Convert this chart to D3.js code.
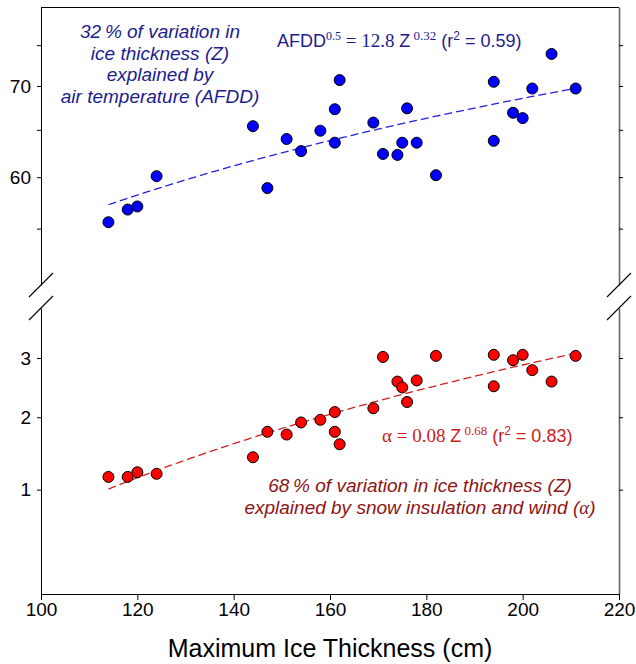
<!DOCTYPE html>
<html>
<head>
<meta charset="utf-8">
<title>Ice thickness vs AFDD and alpha</title>
<style>
  body { margin: 0; background: #fff; }
  text { font-family: "Liberation Sans", Arial, sans-serif; }
</style>
</head>
<body>
<script src="https://cdn.jsdelivr.net/npm/d3@7"></script>
<script>
var width  = 636;
var height = 664;

// maximum ice thickness Z (cm), one entry per lake/year
var thickness = [114, 118, 120, 124, 144, 147, 151, 154, 158, 161, 161, 162, 169,
                 171, 174, 175, 176, 178, 182, 194, 194, 198, 200, 202, 206, 211];
// AFDD^0.5 (upper panel, blue)
var afdd = [55.6, 56.8, 57.1, 60.1, 65.4, 58.9, 64.0, 62.7, 64.9, 63.6, 67.3, 70.7, 65.8,
            62.4, 62.3, 63.6, 67.4, 63.6, 60.2, 63.8, 70.5, 66.9, 66.3, 69.7, 73.9, 69.7];
// alpha (lower panel, red)
var alpha = [2.08, 2.08, 2.11, 2.10, 2.21, 2.39, 2.37, 2.46, 2.48, 2.54, 2.39, 2.30, 2.57,
             3.01, 2.79, 2.74, 2.62, 2.80, 3.02, 3.03, 2.75, 2.98, 3.03, 2.89, 2.79, 3.02];

var xTicks = [100, 120, 140, 160, 180, 200, 220];
var afddTicks = [55, 60, 65, 70, 75];
var afddTickLabels = ["", "60", "", "70", ""];
var alphaTicks = [2, 2.5, 3];
var alphaTickLabels = ["1", "2", "3"];

// power-law fits y = a * Z^b
var afddFit  = [12.58, 0.32];
var alphaFit = [0.08, 0.68];

var blueText = "#1c1c8e";
var redText  = "#8c1414";

var svg = d3.select("body").append("svg")
            .attr("width", width)
            .attr("height", height);

var x    = d3.scaleLinear().domain([100, 220]).range([41, 619]);
var yTop = d3.scaleLog().domain([50, 80]).range([285, 7]);
var yBot = d3.scaleLog().domain([1.45, 3.5]).range([594, 308]);

// top border
svg.append("line")
   .attr("x1", x.range()[0]).attr("x2", x.range()[1])
   .attr("y1", 7.5).attr("y2", 7.5)
   .attr("stroke", "#000");

// left axes
function styleAxis(g, size) {
  g.attr("font-size", size).attr("font-family", "Liberation Sans, Arial, sans-serif");
}
svg.append("g")
   .attr("transform", "translate(" + x.range()[0] + ",0)")
   .call(d3.axisLeft(yTop).tickValues(afddTicks).tickSize(4).tickSizeOuter(0).tickPadding(6)
           .tickFormat(function(d, i) { return afddTickLabels[i]; }))
   .call(styleAxis, 19);
svg.append("g")
   .attr("transform", "translate(" + x.range()[0] + ",0)")
   .call(d3.axisLeft(yBot).tickValues(alphaTicks).tickSize(4).tickSizeOuter(0).tickPadding(6)
           .tickFormat(function(d, i) { return alphaTickLabels[i]; }))
   .call(styleAxis, 19);

// right axes (grey, no labels)
[yTop, yBot].forEach(function(s, k) {
  var g = svg.append("g")
     .attr("transform", "translate(" + x.range()[1] + ",0)")
     .call(d3.axisRight(s).tickValues(k === 0 ? afddTicks : alphaTicks).tickSize(4).tickSizeOuter(0)
             .tickFormat(""));
  g.select(".domain").attr("stroke", "#666").attr("stroke-width", 1.6);
});

// bottom axis
svg.append("g")
   .attr("transform", "translate(0," + yBot.range()[0] + ")")
   .call(d3.axisBottom(x).tickValues(xTicks).tickSize(6).tickSizeOuter(0).tickPadding(3))
   .call(styleAxis, 19);

// axis break marks
[x.range()[0], x.range()[1]].forEach(function(px) {
  [yTop.range()[0], yBot.range()[1]].forEach(function(py) {
    svg.append("line")
       .attr("x1", px - 12).attr("y1", py + 12)
       .attr("x2", px + 12).attr("y2", py - 12)
       .attr("stroke", "#000").attr("stroke-width", 1.1);
  });
});

// fit lines
var zRange = d3.range(thickness[0], thickness[thickness.length - 1] + 0.5, 1);
var lineTop = d3.line()
  .x(function(z) { return x(z); })
  .y(function(z) { return yTop(afddFit[0] * Math.pow(z, afddFit[1])); });
var lineBot = d3.line()
  .x(function(z) { return x(z); })
  .y(function(z) { return yBot(alphaFit[0] * Math.pow(z, alphaFit[1])); });

svg.append("path").datum(zRange).attr("d", lineTop)
   .attr("fill", "none").attr("stroke", "#2222dd").attr("stroke-width", 1.3)
   .attr("stroke-dasharray", "8,4");
svg.append("path").datum(zRange).attr("d", lineBot)
   .attr("fill", "none").attr("stroke", "#d02020").attr("stroke-width", 1.3)
   .attr("stroke-dasharray", "8,4");

// points
svg.append("g").selectAll("circle")
   .data(thickness)
   .enter().append("circle")
   .attr("cx", function(d) { return x(d); })
   .attr("cy", function(d, i) { return yTop(afdd[i]); })
   .attr("r", 5.5)
   .attr("fill", "#0000ff").attr("stroke", "#000").attr("stroke-width", 1);

svg.append("g").selectAll("circle")
   .data(thickness)
   .enter().append("circle")
   .attr("cx", function(d) { return x(d); })
   .attr("cy", function(d, i) { return yBot(alpha[i]); })
   .attr("r", 5.5)
   .attr("fill", "#ff0000").attr("stroke", "#000").attr("stroke-width", 1);

// x axis title
svg.append("text")
   .attr("x", (x.range()[0] + x.range()[1]) / 2)
   .attr("y", 657)
   .attr("text-anchor", "middle")
   .attr("font-size", 25)
   .text("Maximum Ice Thickness (cm)");

// upper note
var noteTop = ["32\u2009% of variation in", "ice thickness (Z)", "explained by", "air temperature (AFDD)"];
svg.append("g").selectAll("text")
   .data(noteTop)
   .enter().append("text")
   .attr("x", 160)
   .attr("y", function(d, i) { return 38 + i * 21.7; })
   .attr("text-anchor", "middle")
   .attr("font-size", 19)
   .attr("font-style", "italic")
   .attr("fill", blueText)
   .text(function(d) { return d; });

// upper equation
var eq1 = svg.append("text")
   .attr("x", 277).attr("y", 46.5)
   .attr("font-size", 18).attr("fill", blueText)
   .style("white-space", "pre");
eq1.append("tspan").text("AFDD");
eq1.append("tspan").attr("dy", -7).attr("font-size", 12).attr("font-family", "Liberation Serif, serif").text("0.5");
eq1.append("tspan").attr("dy", 7).attr("font-size", 19).attr("font-family", "Liberation Serif, serif").text(" = 12.8 ");
eq1.append("tspan").text("Z");
eq1.append("tspan").attr("dy", -7).attr("font-size", 13).attr("font-family", "Liberation Serif, serif").text(" 0.32");
eq1.append("tspan").attr("dy", 7).text(" (r");
eq1.append("tspan").attr("dy", -7).attr("font-size", 12).text("2");
eq1.append("tspan").attr("dy", 7).text(" = 0.59)");

// lower equation
var eq2 = svg.append("text")
   .attr("x", 382).attr("y", 442)
   .attr("font-size", 18).attr("fill", "#cc2020")
   .style("white-space", "pre");
eq2.append("tspan").attr("font-size", 19).attr("font-family", "Liberation Serif, serif").text("\u03b1 = 0.08 ");
eq2.append("tspan").text("Z");
eq2.append("tspan").attr("dy", -7).attr("font-size", 13).attr("font-family", "Liberation Serif, serif").text(" 0.68");
eq2.append("tspan").attr("dy", 7).text(" (r");
eq2.append("tspan").attr("dy", -7).attr("font-size", 12).text("2");
eq2.append("tspan").attr("dy", 7).text(" = 0.83)");

// lower note
var n1 = svg.append("text")
   .attr("x", 420).attr("y", 491.5)
   .attr("text-anchor", "middle").attr("font-size", 19).attr("font-style", "italic")
   .attr("fill", redText)
   .text("68\u2009% of variation in ice thickness (Z)");
var n2 = svg.append("text")
   .attr("x", 420).attr("y", 514)
   .attr("text-anchor", "middle").attr("font-size", 19).attr("font-style", "italic")
   .attr("fill", redText);
n2.append("tspan").text("explained by snow insulation and wind (");
n2.append("tspan").attr("font-family", "Liberation Serif, serif").text("\u03b1");
n2.append("tspan").text(")");
</script>
</body>
</html>
